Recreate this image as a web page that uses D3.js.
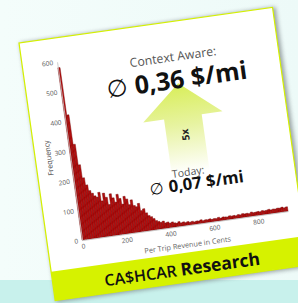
<!DOCTYPE html>
<html>
<head>
<meta charset="utf-8">
<script src="https://cdn.jsdelivr.net/npm/d3@7"></script>
<style>
    html, body { margin: 0; padding: 0; }
    body { width: 298px; height: 303px; overflow: hidden; }
    text { font-family: "Open Sans", "DejaVu Sans", sans-serif; }
</style>
</head>
<body>
<div id="card-chart"></div>
<script>
// histogram bins (start of bin, in cents) and counts
var binWidth = 10;
var binStarts = [
      0,  10,  20,  30,  40,  50,  60,  70,  80,  90,
    100, 110, 120, 130, 140, 150, 160, 170, 180, 190,
    200, 210, 220, 230, 240, 250, 260, 270, 280, 290,
    300, 310, 320, 330, 340, 350, 360, 370, 380, 390,
    400, 410, 420, 430, 440, 450, 460, 470, 480, 490,
    500, 510, 520, 530, 540, 550, 560, 570, 580, 590,
    600, 610, 620, 630, 640, 650, 660, 670, 680, 690,
    700, 710, 720, 730, 740, 750, 760, 770, 780, 790,
    800, 810, 820, 830, 840, 850, 860, 870, 880, 890,
    900, 910, 920, 930
];
var frequencies = [
    580, 420, 320, 250, 205, 180, 160, 150, 140, 135,
    150, 120, 145, 130, 105, 140, 125, 110, 135, 120,
    100, 125, 115,  95, 110,  90,  85,  95,  70,  75,
     60,  50,  45,  38,  30,  26,  22,  25,  18,  20,
     15,  18,  14,  12,  16,  11,  13,  10,  12,   9,
     11,   8,  10,   9,  12,   8,  10,   9,  11,   8,
     10,   9,  12,   8,  11,  10,   9,  12,  10,  11,
      9,  12,  10,  13,  11,  12,  10,  14,  11,  12,
     13,  11,  14,  12,  13,  15,  12,  14,  13,  15,
     14,  16,  13,  15
];
var xTicks = [0, 200, 400, 600, 800];
var yTicks = [0, 100, 200, 300, 400, 500, 600];

var xLabel = 'Per Trip Revenue in Cents';
var yLabel = 'Frequency';
var topCaption = 'Context Aware:';
var topValue = '0,36 $/mi';
var bottomCaption = 'Today:';
var bottomValue = '0,07 $/mi';
var factorLabel = '5x';
var brandName = 'CA$HCAR';
var brandSuffix = 'Research';

var card = {x: 19, y: 43, angle: -8, width: 256, height: 260, footer: 29};
var plot = {left: 35, right: 243, top: 24, bottom: 204};

var createChart = function createChart() {
    var svg = d3.select('#card-chart').append('svg')
                .attr('width', 298)
                .attr('height', 303);

    var defs = svg.append('defs');

    var bgGrad = defs.append('linearGradient')
                     .attr('id', 'bg-grad')
                     .attr('x1', 0).attr('y1', 0).attr('x2', 1).attr('y2', 0);
    bgGrad.append('stop').attr('offset', 0).attr('stop-color', '#f4fdfb');
    bgGrad.append('stop').attr('offset', 1).attr('stop-color', '#edfaf8');

    var shadow = defs.append('filter')
                     .attr('id', 'card-shadow')
                     .attr('x', -0.1).attr('y', -0.1)
                     .attr('width', 1.2).attr('height', 1.2);
    shadow.append('feGaussianBlur').attr('stdDeviation', 2.2);

    var arrowGrad = defs.append('linearGradient')
                        .attr('id', 'arrow-grad')
                        .attr('gradientUnits', 'userSpaceOnUse')
                        .attr('x1', 0).attr('y1', 64).attr('x2', 0).attr('y2', 152);
    arrowGrad.append('stop').attr('offset', 0).attr('stop-color', '#d9ee5c');
    arrowGrad.append('stop').attr('offset', 0.45).attr('stop-color', '#e7f3a0');
    arrowGrad.append('stop').attr('offset', 1).attr('stop-color', '#ffffff');

    // page background
    svg.append('rect')
       .attr('width', 298).attr('height', 303)
       .attr('fill', 'url(#bg-grad)');
    svg.append('rect')
       .attr('y', 280).attr('width', 298).attr('height', 23)
       .attr('fill', '#c8f1ec');

    var g = svg.append('g')
               .attr('transform', 'translate(' + card.x + ', ' + card.y + ') rotate(' + card.angle + ')');

    g.append('rect')
     .attr('x', 1).attr('y', 0)
     .attr('width', card.width + 2).attr('height', card.height + 2)
     .attr('fill', '#7d8588')
     .attr('opacity', 0.75)
     .attr('filter', 'url(#card-shadow)');

    g.append('rect')
     .attr('width', card.width).attr('height', card.height)
     .attr('fill', '#ffffff')
     .attr('stroke', '#d4f000')
     .attr('stroke-width', 1.2);

    g.append('rect')
     .attr('y', card.height - card.footer)
     .attr('width', card.width).attr('height', card.footer)
     .attr('fill', '#d6f200');

    createHistogram(g);
    createCallout(g);
    createFooter(g);
}

var createHistogram = function createHistogram(g) {
    var x = d3.scaleLinear()
              .domain([0, 940])
              .range([plot.left, plot.right]);

    var y = d3.scaleLinear()
              .domain([0, 600])
              .range([plot.bottom, plot.top]);

    g.append('g').selectAll('rect')
     .data(frequencies)
     .enter().append('rect')
        .attr('x', function(d, i) { return x(binStarts[i]); })
        .attr('y', function(d) { return y(d); })
        .attr('width', function(d, i) { return x(binStarts[i] + binWidth) - x(binStarts[i]); })
        .attr('height', function(d) { return y(0) - y(d); })
        .attr('fill', '#b30d0d')
        .attr('stroke', '#6e0000')
        .attr('stroke-width', 0.4);

    var xAxis = d3.axisBottom(x)
                  .tickValues(xTicks)
                  .tickSize(0)
                  .tickPadding(4);

    var yAxis = d3.axisLeft(y)
                  .tickValues(yTicks)
                  .tickSize(0)
                  .tickPadding(4);

    var xg = g.append('g')
              .attr('transform', 'translate(0, ' + plot.bottom + ')')
              .call(xAxis);

    var yg = g.append('g')
              .attr('transform', 'translate(' + plot.left + ', 0)')
              .call(yAxis);

    [xg, yg].forEach(function(axis) {
        axis.select('.domain').attr('stroke', '#c4c4c4').attr('stroke-width', 0.8);
        axis.selectAll('text')
            .attr('fill', '#555')
            .style('font-size', '6.5px')
            .style('font-family', '"Open Sans", sans-serif');
    });

    g.append('text')
     .attr('x', (plot.left + plot.right) / 2)
     .attr('y', plot.bottom + 22)
     .attr('text-anchor', 'middle')
     .attr('fill', '#666')
     .style('font-size', '7.3px')
     .text(xLabel);

    g.append('text')
     .attr('transform', 'translate(16, ' + 118 + ') rotate(-90)')
     .attr('text-anchor', 'middle')
     .attr('fill', '#444')
     .style('font-size', '7.3px')
     .text(yLabel);
}

var createCallout = function createCallout(g) {
    // big arrow, fading out towards the bottom
    var cx = 152;
    var arrowPts = [
        [cx, 62], [cx + 40, 96], [cx + 19, 96], [cx + 19, 152],
        [cx - 19, 152], [cx - 19, 96], [cx - 40, 96]
    ];
    g.append('path')
     .attr('d', d3.line()(arrowPts) + 'Z')
     .attr('fill', 'url(#arrow-grad)');

    g.append('text')
     .attr('transform', 'translate(' + (cx + 3.5) + ', 114) rotate(-90)')
     .attr('text-anchor', 'middle')
     .attr('fill', '#222')
     .style('font-size', '10px')
     .style('font-weight', 700)
     .text(factorLabel);

    g.append('text')
     .attr('x', 150.5).attr('y', 39.5)
     .attr('text-anchor', 'middle')
     .attr('fill', '#555')
     .style('font-size', '12.3px')
     .text(topCaption);

    var big = g.append('text')
               .attr('x', 151).attr('y', 67)
               .attr('text-anchor', 'middle')
               .attr('fill', '#111');
    big.append('tspan')
       .style('font-family', '"DejaVu Sans", sans-serif')
       .style('font-size', '24px')
       .style('font-weight', 300)
       .text('\u2205 ');
    big.append('tspan')
       .style('font-size', '25px')
       .style('font-weight', 700)
       .text(topValue);

    g.append('text')
     .attr('x', 149.5).attr('y', 155)
     .attr('text-anchor', 'middle')
     .attr('fill', '#555')
     .style('font-size', '10.5px')
     .text(bottomCaption);

    var small = g.append('text')
                 .attr('x', 156.5).attr('y', 169)
                 .attr('text-anchor', 'middle')
                 .attr('fill', '#111');
    small.append('tspan')
         .style('font-family', '"DejaVu Sans", sans-serif')
         .style('font-size', '16px')
         .text('\u2205 ');
    small.append('tspan')
         .style('font-size', '16.7px')
         .style('font-weight', 700)
         .text(bottomValue);
}

var createFooter = function createFooter(g) {
    var t = g.append('text')
             .attr('x', 130).attr('y', 253)
             .attr('text-anchor', 'middle')
             .attr('fill', '#111');
    t.append('tspan')
     .style('font-size', '16px')
     .style('font-weight', 600)
     .text(brandName + ' ');
    t.append('tspan')
     .style('font-size', '17.5px')
     .style('font-weight', 700)
     .text(brandSuffix);
}

createChart();
</script>
</body>
</html>
